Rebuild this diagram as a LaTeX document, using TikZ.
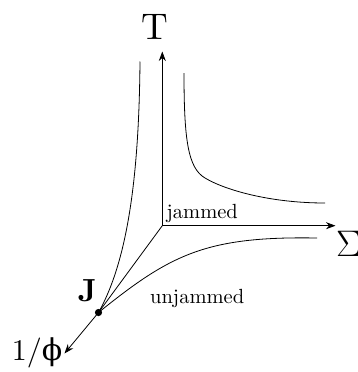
\RequirePackage{fix-cm}
\documentclass[tikz,border=0pt]{standalone}
\usepackage{fontspec}
\setmainfont{lmroman10-regular}[Extension=.otf,BoldFont=lmroman10-bold]
\newfontfamily\grk{DejaVu Serif}
\usetikzlibrary{arrows.meta}
\begin{document}
\begin{tikzpicture}[x=1pt,y=-1pt,
  axis/.style={line width=0.8pt,-{Stealth[length=9.5pt,width=7pt]}},
  curve/.style={line width=0.8pt},
  region/.style={anchor=base west,inner sep=0pt,font=\fontsize{20.5}{24}\selectfont}]
\useasboundingbox (0,0) rectangle (358,372);
\coordinate (O) at (162.3,225.7);
\coordinate (J) at (98.5,312.5);
\coordinate (Ttip) at (162.3,51.5);
\coordinate (Stip) at (335.5,225.7);
\coordinate (Ptip) at (64.5,353.5);
\coordinate (Ltop) at (140,61.5);
\coordinate (Rend) at (317,238);
\coordinate (Utop) at (184,73);
\coordinate (Umid) at (205,178);
\coordinate (Uend) at (325,203);
% axes
\draw[axis] (O) -- (Ttip);
\draw[axis] (O) -- (Stip);
\draw[axis] (J) -- (Ptip);
\draw[curve] (O) -- (J);
% curves from J
\draw[curve] (J) .. controls (128,260) and (139,175) .. (Ltop);
\draw[curve] (J) .. controls (170,255) and (205,236) .. (Rend);
% jammed boundary
\draw[curve] (Utop) .. controls (184,140) and (188,168) .. (Umid)
  .. controls (225,190) and (270,203) .. (Uend);
\fill (J) circle (3.6);
% labels
\node[inner sep=0pt,font=\fontsize{37}{40}\selectfont] (Tlab) at (154.5,27) {T};
\node[anchor=west,inner sep=0pt,font=\fontsize{37}{40}\selectfont] (Slab) at (336,244) {$\Sigma$};
\node[inner sep=0pt,font=\fontsize{32}{36}\selectfont\bfseries] (Jlab) at (87.5,290.5) {J};
\node[inner sep=0pt,font=\fontsize{30}{34}\selectfont] (Plab) at (37,353) {1/{\grk ϕ}};
\node[region] (jam) at (166.5,218.3) {jammed};
\node[region] (unjam) at (150,303.3) {unjammed};
\end{tikzpicture}
\end{document}
